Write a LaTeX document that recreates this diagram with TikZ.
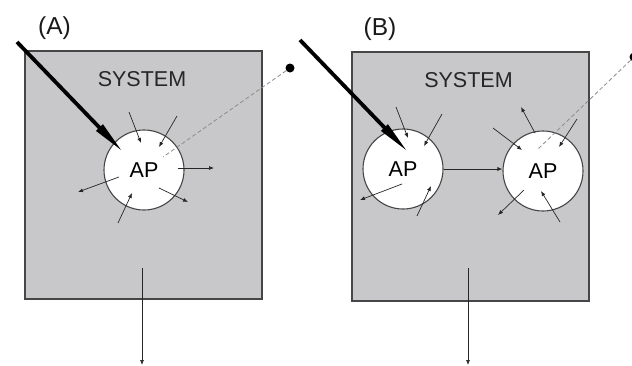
\documentclass[tikz,border=0pt]{standalone}
\usepackage{fontspec}
\setmainfont{Liberation Sans}
\usepackage{tikz}
\usetikzlibrary{
	arrows.meta,
	calc,
	positioning
}
\definecolor{SysGray}{RGB}{200,200,202}
\definecolor{EdgeGray}{RGB}{70,70,70}

\tikzset{
	sysbox/.style={draw=EdgeGray, line width=1.1pt, fill=SysGray, minimum width=237pt, minimum height=248pt, inner sep=0pt},
	apcirc/.style={circle, draw=EdgeGray, line width=1.1pt, fill=white, minimum size=80pt, inner sep=0pt, font=\fontsize{21.5}{25}\selectfont},
	flux/.style={-{Latex[length=5pt,width=4pt]}, line width=0.7pt, black!85},
	stimulus/.style={-{Triangle[length=34pt,width=8.5pt]}, line width=3.8pt, black},
	probe/.style={dash pattern=on 4pt off 2.5pt, black!45, line width=0.8pt},
	probedot/.style={circle, fill=black, inner sep=0pt, minimum size=9pt},
	lbl/.style={font=\fontsize{21.5}{25}\selectfont, text=black!85},
	panellbl/.style={font=\fontsize{24.5}{28}\selectfont, text=black!90}
}

\begin{document}
\begin{tikzpicture}[x=1pt, y=-1pt]
	\useasboundingbox (0,0) rectangle (632,365);
	% panel (A)
	\begin{scope}
		\node[sysbox] (sysA) at (143.5,175) {};
		\node[panellbl] (labA) at (54.5,28) {(A)};
		\node[lbl] (nameA) at (142,79.5) {SYSTEM};
		\node[apcirc] (apA) at (144,170) {AP};
		\foreach \sx/\sy/\ex/\ey in {-15/-58/-3/-27, 33/-54/15/-23, 34/-2/70/-2,
			-25/7/-66/22, 15/18/44/32, -26/53/-12/23}
			\draw[flux] ($(apA)+(\sx,\sy)$) -- ($(apA)+(\ex,\ey)$);
		\coordinate (inA) at (17,42);
		\coordinate (tipA) at ($(apA)+(-21,-18)$);
		\draw[stimulus] (inA) -- (tipA);
		\node[probedot] (srcA) at (290,68) {};
		\coordinate (endA) at ($(apA)+(19,-13)$);
		\draw[probe] (srcA) -- (endA);
		\coordinate (outA) at (142,268);
		\coordinate (sinkA) at (142,365);
		\draw[flux] (outA) -- (sinkA);
	\end{scope}
	% panel (B)
	\begin{scope}
		\node[sysbox, minimum height=249pt] (sysB) at (470.5,176.5) {};
		\node[panellbl] (labB) at (380,29) {(B)};
		\node[lbl] (nameB) at (468.5,80) {SYSTEM};
		\node[apcirc] (apB) at (403,169) {AP};
		\node[apcirc] (apC) at (543,171) {AP};
		\draw[flux] (apB.east) -- (apB.east -| apC.west);
		\foreach \sx/\sy/\ex/\ey in {-7/-62/5/-31, 39/-55/21/-23, -1/15/-43/31, 14/47/28/17}
			\draw[flux] ($(apB)+(\sx,\sy)$) -- ($(apB)+(\ex,\ey)$);
		\foreach \sx/\sy/\ex/\ey in {-8/-38/-22/-64, -50/-43/-21/-21, 34/-52/16/-24,
			-19/19/-45/44, 17/51/-2/20}
			\draw[flux] ($(apC)+(\sx,\sy)$) -- ($(apC)+(\ex,\ey)$);
		\coordinate (inB) at (300,40);
		\coordinate (tipB) at ($(apB)+(5,-17)$);
		\draw[stimulus] (inB) -- (tipB);
		\node[probedot] (srcB) at (634,57) {};
		\coordinate (endB) at ($(apC)+(-5,-22)$);
		\draw[probe] (srcB) -- (endB);
		\coordinate (outB) at (468,268);
		\coordinate (sinkB) at (468,365);
		\draw[flux] (outB) -- (sinkB);
	\end{scope}
\end{tikzpicture}
\end{document}
